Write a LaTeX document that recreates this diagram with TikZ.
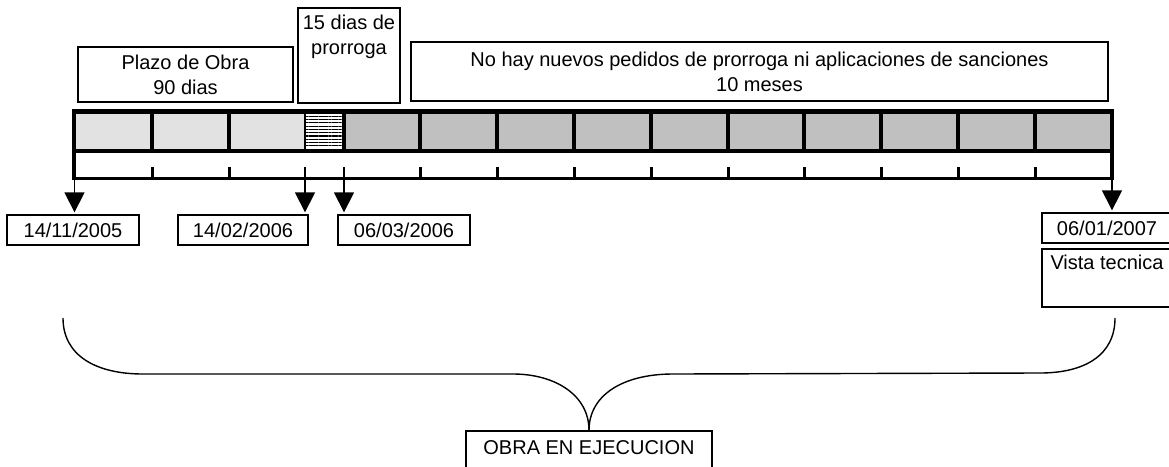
\documentclass[tikz,border=0pt]{standalone}
\usepackage{fontspec}
\setmainfont{Liberation Sans}
\usetikzlibrary{arrows.meta,patterns.meta}
\definecolor{cellgray}{HTML}{C0C0C0}
\definecolor{dotgray}{HTML}{E2E2E2}
\begin{document}
\begin{tikzpicture}[x=1pt,y=-1pt,
  font=\fontsize{20}{25}\selectfont,
  box/.style={draw, line width=1.3pt, inner sep=0pt, align=center},
  barline/.style={line width=4.5pt},
  axisline/.style={line width=3pt},
  arr/.style={line width=1.3pt, shorten >=2pt, -{Triangle[width=20pt,length=20pt]}},
  brace/.style={line width=1.4pt}]
\useasboundingbox (0,0) rectangle (1169,466);

% top labels
\node[box, minimum width=215pt, minimum height=55pt] (plazo) at (185.5,74.5) {Plazo de Obra\\90 dias};
\node[box] (prorr) at (349,55.5) {\parbox[c][95pt][t]{102pt}{\centering\vspace*{7pt}15 dias de\\prorroga}};
\node[box, minimum width=697pt, minimum height=59pt] (nohay) at (759.5,71.5) {No hay nuevos pedidos de prorroga ni aplicaciones de sanciones\\10 meses};

% bar fills
\fill[dotgray] (74,111.5) rectangle (305,151);
\fill[pattern={Lines[distance=3.3pt,line width=1.1pt]}] (305,111.5) rectangle (344,151);
\fill[cellgray] (344,111.5) rectangle (1112,151);

% bar frame and dividers
\draw[barline] (74,111.5) rectangle (1112,151);
\foreach \x in {152,229,344,420,497,574,651,728,804,881,958,1035}
  \draw[barline] (\x,111.5) -- (\x,151);
\draw[line width=2pt] (305,111.5) -- (305,151);
\draw[barline] (74,151) -- (74,178);
\draw[barline] (1112,151) -- (1112,178);

% axis and ticks
\draw[axisline] (72,178) -- (1114,178);
\foreach \x in {152,229,420,497,574,651,728,804,881,958,1035}
  \draw[axisline] (\x,167) -- (\x,178);

% date boxes
\node[box, minimum width=132pt, minimum height=30pt] (d1) at (73,230) {14/11/2005};
\node[box, minimum width=130pt, minimum height=30pt] (d2) at (243,230) {14/02/2006};
\node[box, minimum width=132pt, minimum height=30pt] (d3) at (404,230) {06/03/2006};
\node[box, minimum width=130pt, minimum height=30pt] (d4) at (1107,228) {06/01/2007};
\node[box] (vista) at (1107,278) {\parbox[c][58pt][t]{130pt}{\centering\vspace*{6pt}Vista tecnica}};

% arrows
\coordinate (s1) at (74.5,178);
\coordinate (s2) at (305,167);
\coordinate (s3) at (344,167);
\coordinate (s4) at (1112,178);
\draw[arr] (s1) -- (s1 |- d1.north);
\draw[arr] (s2) -- (s2 |- d2.north);
\draw[arr] (s3) -- (s3 |- d3.north);
\draw[arr] (s4) -- (s4 |- d4.north);

% bottom label and brace
\node[box] (obra) at (589,456) {\parbox[c][50pt][t]{246pt}{\centering\vspace*{10pt}OBRA EN EJECUCION}};
\coordinate (bl) at (63,318);
\coordinate (br) at (1115,318);
\draw[brace] (bl) .. controls (63,355) and (95,374) .. (143,374) -- (513,374)
  .. controls (555,374) and (589,395) .. (obra.north);
\draw[brace] (br) .. controls (1115,355) and (1085,373) .. (1040,373) -- (673,374)
  .. controls (623,374) and (589,395) .. (obra.north);
\end{tikzpicture}
\end{document}
